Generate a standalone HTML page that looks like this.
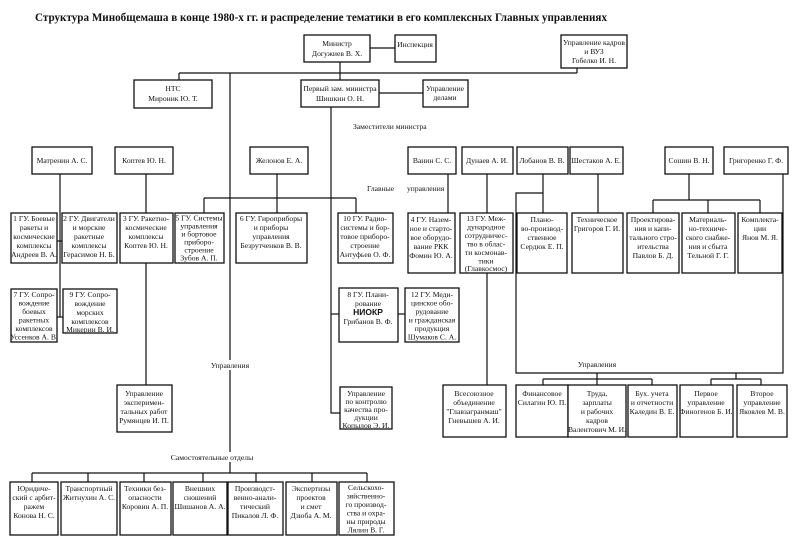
<!DOCTYPE html>
<html><head><meta charset="utf-8"><style>
html,body{margin:0;padding:0;background:#fff;}
svg{display:block;}
text{font-family:"Liberation Serif",serif;font-size:7.6px;fill:#111;}
rect{fill:#fff;stroke:#111;stroke-width:1.3;}
line,polyline{stroke:#111;stroke-width:1.2;fill:none;}
</style></head><body>
<svg width="800" height="538" viewBox="0 0 800 538" xmlns="http://www.w3.org/2000/svg">
<text x="35" y="21" style="font-size:12px;font-weight:bold" textLength="572" lengthAdjust="spacingAndGlyphs">Структура Минобщемаша в конце 1980-х гг. и распределение тематики  в его комплексных Главных управлениях</text>

<!-- connectors -->
<line x1="370" y1="48" x2="395" y2="48"/>
<line x1="340" y1="62" x2="340" y2="80"/>
<line x1="179" y1="73" x2="577" y2="73"/>
<line x1="577" y1="68" x2="577" y2="73"/>
<line x1="179" y1="73" x2="179" y2="80"/>
<line x1="379" y1="93" x2="423" y2="93"/>
<line x1="230" y1="73" x2="230" y2="473"/>
<polyline points="331,107 331,413 340,413"/>
<line x1="60" y1="173" x2="60" y2="317"/>
<line x1="57" y1="241" x2="62" y2="241"/>
<line x1="57" y1="317" x2="63" y2="317"/>
<line x1="146" y1="173" x2="146" y2="385"/>
<line x1="277" y1="173" x2="277" y2="198"/>
<line x1="204" y1="198" x2="356" y2="198"/>
<line x1="204" y1="198" x2="204" y2="213"/>
<line x1="277" y1="198" x2="277" y2="213"/>
<line x1="356" y1="198" x2="356" y2="213"/>
<line x1="331" y1="314" x2="339" y2="314"/>
<line x1="398" y1="314" x2="405" y2="314"/>
<line x1="448" y1="174" x2="448" y2="213"/>
<line x1="487" y1="174" x2="487" y2="385"/>
<line x1="543" y1="174" x2="543" y2="213"/>
<polyline points="543,193 516,193 516,373 783,373 783,174"/>
<line x1="598" y1="174" x2="598" y2="213"/>
<line x1="689" y1="174" x2="689" y2="200"/>
<line x1="653" y1="200" x2="760" y2="200"/>
<line x1="653" y1="200" x2="653" y2="213"/>
<line x1="708" y1="200" x2="708" y2="213"/>
<line x1="760" y1="200" x2="760" y2="213"/>
<line x1="597" y1="373" x2="597" y2="379"/>
<line x1="543" y1="379" x2="652" y2="379"/>
<line x1="543" y1="379" x2="543" y2="385"/>
<line x1="597" y1="379" x2="597" y2="385"/>
<line x1="652" y1="379" x2="652" y2="385"/>
<line x1="736" y1="373" x2="736" y2="379"/>
<line x1="711" y1="379" x2="761" y2="379"/>
<line x1="711" y1="379" x2="711" y2="385"/>
<line x1="761" y1="379" x2="761" y2="385"/>
<line x1="32" y1="473" x2="367" y2="473"/>
<line x1="32" y1="473" x2="32" y2="482"/>
<line x1="88" y1="473" x2="88" y2="482"/>
<line x1="144" y1="473" x2="144" y2="482"/>
<line x1="203" y1="473" x2="203" y2="482"/>
<line x1="256" y1="473" x2="256" y2="482"/>
<line x1="312" y1="473" x2="312" y2="482"/>
<line x1="367" y1="473" x2="367" y2="482"/>

<!-- labels -->
<text x="353" y="129">Заместители министра</text>
<text x="367" y="191">Главные</text>
<text x="407" y="191">управления</text>
<rect x="211" y="360" width="39" height="10" style="stroke:none"/>
<text x="230" y="368" text-anchor="middle">Управления</text>
<text x="597" y="367" text-anchor="middle">Управления</text>
<rect x="170" y="452" width="86" height="10" style="stroke:none"/>
<text x="212" y="460" text-anchor="middle">Самостоятельные отделы</text>

<!-- top boxes -->
<rect x="304" y="35" width="66" height="27"/>
<text text-anchor="middle"><tspan x="337" y="46">Министр</tspan><tspan x="337" y="56">Догужиев В. Х.</tspan></text>
<rect x="395" y="35" width="41" height="27"/>
<text x="415" y="47" text-anchor="middle">Инспекция</text>
<rect x="561" y="35" width="66" height="33"/>
<text text-anchor="middle"><tspan x="594" y="45">Управление кадров</tspan><tspan x="594" y="54">и ВУЗ</tspan><tspan x="594" y="63">Гобелко И. Н.</tspan></text>
<rect x="134" y="80" width="78" height="28"/>
<text text-anchor="middle"><tspan x="173" y="91">НТС</tspan><tspan x="173" y="101">Мироник Ю. Т.</tspan></text>
<rect x="301" y="80" width="78" height="27"/>
<text text-anchor="middle"><tspan x="340" y="91">Первый зам. министра</tspan><tspan x="340" y="101">Шишкин О. Н.</tspan></text>
<rect x="423" y="80" width="45" height="27"/>
<text text-anchor="middle"><tspan x="445" y="91">Управление</tspan><tspan x="445" y="100">делами</tspan></text>

<!-- deputies -->
<rect x="32" y="147" width="60" height="27"/><text x="62" y="163" text-anchor="middle">Матренин А. С.</text>
<rect x="115" y="147" width="58" height="27"/><text x="144" y="163" text-anchor="middle">Коптев Ю. Н.</text>
<rect x="250" y="147" width="58" height="27"/><text x="279" y="163" text-anchor="middle">Желонов Е. А.</text>
<rect x="408" y="147" width="48" height="27"/><text x="432" y="163" text-anchor="middle">Ванин С. С.</text>
<rect x="462" y="147" width="51" height="27"/><text x="487" y="163" text-anchor="middle">Дунаев А. И.</text>
<rect x="517" y="147" width="51" height="27"/><text x="542" y="163" text-anchor="middle">Лобанов В. В.</text>
<rect x="570" y="147" width="53" height="27"/><text x="596" y="163" text-anchor="middle">Шестаков А. Е.</text>
<rect x="665" y="147" width="48" height="27"/><text x="689" y="163" text-anchor="middle">Сошин В. Н.</text>
<rect x="724" y="147" width="64" height="27"/><text x="756" y="163" text-anchor="middle">Григоренко Г. Ф.</text>

<!-- GU row -->
<rect x="11" y="213" width="46" height="50"/>
<text text-anchor="middle"><tspan x="34" y="221">1 ГУ. Боевые</tspan><tspan x="34" y="230">ракеты и</tspan><tspan x="34" y="239">космические</tspan><tspan x="34" y="248">комплексы</tspan><tspan x="34" y="257">Андреев В. А.</tspan></text>
<rect x="62" y="213" width="55" height="50"/>
<text text-anchor="middle"><tspan x="89" y="221">2 ГУ. Двигатели</tspan><tspan x="89" y="230">и морские</tspan><tspan x="89" y="239">ракетные</tspan><tspan x="89" y="248">комплексы</tspan><tspan x="89" y="257">Герасимов Н. Б.</tspan></text>
<rect x="120" y="213" width="53" height="50"/>
<text text-anchor="middle"><tspan x="146" y="221">3 ГУ. Ракетно-</tspan><tspan x="146" y="230">космические</tspan><tspan x="146" y="239">комплексы</tspan><tspan x="146" y="248">Коптев Ю. Н.</tspan></text>
<rect x="175" y="213" width="49" height="50"/>
<text text-anchor="middle"><tspan x="199" y="220.5">5 ГУ. Системы</tspan><tspan x="199" y="228.5">управления</tspan><tspan x="199" y="236.5">и бортовое</tspan><tspan x="199" y="244.5">приборо-</tspan><tspan x="199" y="252.5">строение</tspan><tspan x="199" y="260.5">Зубов А. П.</tspan></text>
<rect x="236" y="213" width="71" height="50"/>
<text text-anchor="middle"><tspan x="271" y="221">6 ГУ. Гироприборы</tspan><tspan x="271" y="230">и приборы</tspan><tspan x="271" y="239">управления</tspan><tspan x="271" y="248">Безрутченков В. В.</tspan></text>
<rect x="338" y="213" width="55" height="50"/>
<text text-anchor="middle"><tspan x="365" y="221">10 ГУ. Радио-</tspan><tspan x="365" y="230">системы и бор-</tspan><tspan x="365" y="239">товое приборо-</tspan><tspan x="365" y="248">строение</tspan><tspan x="365" y="257">Антуфьев О. Ф.</tspan></text>
<rect x="408" y="213" width="47" height="60"/>
<text text-anchor="middle"><tspan x="431" y="222">4 ГУ. Назем-</tspan><tspan x="431" y="231">ное и старто-</tspan><tspan x="431" y="240">вое оборудо-</tspan><tspan x="431" y="249">вание РКК</tspan><tspan x="431" y="258">Фомин Ю. А.</tspan></text>
<rect x="460" y="213" width="53" height="60"/>
<text text-anchor="middle"><tspan x="486" y="221">13 ГУ. Меж-</tspan><tspan x="486" y="229.5">дународное</tspan><tspan x="486" y="238">сотрудничес-</tspan><tspan x="486" y="246.5">тво в облас-</tspan><tspan x="486" y="255">ти космонав-</tspan><tspan x="486" y="263.5">тики</tspan><tspan x="486" y="271">(Главкосмос)</tspan></text>
<rect x="517" y="213" width="50" height="60"/>
<text text-anchor="middle"><tspan x="542" y="222">Плано-</tspan><tspan x="542" y="231">во-производ-</tspan><tspan x="542" y="240">ственное</tspan><tspan x="542" y="249">Сердюк Е. П.</tspan></text>
<rect x="572" y="213" width="51" height="60"/>
<text text-anchor="middle"><tspan x="597" y="222">Техническое</tspan><tspan x="597" y="231">Григоров Г. И.</tspan></text>
<rect x="627" y="213" width="52" height="60"/>
<text text-anchor="middle"><tspan x="653" y="222">Проектирова-</tspan><tspan x="653" y="231">ния и капи-</tspan><tspan x="653" y="240">тального стро-</tspan><tspan x="653" y="249">ительства</tspan><tspan x="653" y="258">Павлов Б. Д.</tspan></text>
<rect x="682" y="213" width="53" height="60"/>
<text text-anchor="middle"><tspan x="708" y="222">Материаль-</tspan><tspan x="708" y="231">но-техниче-</tspan><tspan x="708" y="240">ского снабже-</tspan><tspan x="708" y="249">ния и сбыта</tspan><tspan x="708" y="258">Тельной Г. Г.</tspan></text>
<rect x="738" y="213" width="44" height="60"/>
<text text-anchor="middle"><tspan x="760" y="222">Комплекта-</tspan><tspan x="760" y="231">ции</tspan><tspan x="760" y="240">Янов М. Я.</tspan></text>

<!-- second GU row -->
<rect x="11" y="289" width="46" height="53"/>
<text text-anchor="middle"><tspan x="34" y="297">7 ГУ. Сопро-</tspan><tspan x="34" y="305.5">вождение</tspan><tspan x="34" y="314">боевых</tspan><tspan x="34" y="322.5">ракетных</tspan><tspan x="34" y="331">комплексов</tspan><tspan x="34" y="339.5">Уссенков А. В.</tspan></text>
<rect x="63" y="289" width="54" height="44"/>
<text text-anchor="middle"><tspan x="90" y="297">9 ГУ. Сопро-</tspan><tspan x="90" y="306">вождение</tspan><tspan x="90" y="315">морских</tspan><tspan x="90" y="324">комплексов</tspan><tspan x="90" y="332">Микерин В. И.</tspan></text>
<rect x="339" y="288" width="59" height="54"/>
<text text-anchor="middle"><tspan x="368" y="297">8 ГУ. Плани-</tspan><tspan x="368" y="306">рование</tspan><tspan x="368" y="315" style="font-family:'Liberation Sans',sans-serif;font-weight:bold;font-size:8.5px">НИОКР</tspan><tspan x="368" y="324">Грибанов В. Ф.</tspan></text>
<rect x="405" y="288" width="54" height="54"/>
<text text-anchor="middle"><tspan x="432" y="297">12 ГУ. Меди-</tspan><tspan x="432" y="305.5">цинское обо-</tspan><tspan x="432" y="314">рудование</tspan><tspan x="432" y="322.5">и гражданская</tspan><tspan x="432" y="331">продукция</tspan><tspan x="432" y="339.5">Шумаков С. А.</tspan></text>

<!-- upravleniya -->
<rect x="117" y="385" width="55" height="47"/>
<text text-anchor="middle"><tspan x="144" y="396">Управление</tspan><tspan x="144" y="405">эксперимен-</tspan><tspan x="144" y="414">тальных работ</tspan><tspan x="144" y="423">Румянцев И. П.</tspan></text>
<rect x="340" y="387" width="52" height="42"/>
<text text-anchor="middle"><tspan x="366" y="396">Управление</tspan><tspan x="366" y="404">по контролю</tspan><tspan x="366" y="412">качества про-</tspan><tspan x="366" y="420">дукции</tspan><tspan x="366" y="428">Копылов Э. И.</tspan></text>
<rect x="443" y="385" width="63" height="52"/>
<text text-anchor="middle"><tspan x="474" y="396">Всесоюзное</tspan><tspan x="474" y="405">объединение</tspan><tspan x="474" y="414">"Главзагранмаш"</tspan><tspan x="474" y="423">Гневышев А. И.</tspan></text>
<rect x="516" y="385" width="52" height="52"/>
<text text-anchor="middle"><tspan x="542" y="396">Финансовое</tspan><tspan x="542" y="405">Силагин Ю. П.</tspan></text>
<rect x="568" y="385" width="58" height="52"/>
<text text-anchor="middle"><tspan x="597" y="396">Труда,</tspan><tspan x="597" y="405">зарплаты</tspan><tspan x="597" y="414">и рабочих</tspan><tspan x="597" y="423">кадров</tspan><tspan x="597" y="432">Валентович М. И.</tspan></text>
<rect x="628" y="385" width="49" height="52"/>
<text text-anchor="middle"><tspan x="652" y="396">Бух. учета</tspan><tspan x="652" y="405">и отчетности</tspan><tspan x="652" y="414">Каледин В. Е.</tspan></text>
<rect x="680" y="385" width="53" height="52"/>
<text text-anchor="middle"><tspan x="706" y="396">Первое</tspan><tspan x="706" y="405">управление</tspan><tspan x="706" y="414">Финогенов Б. И.</tspan></text>
<rect x="737" y="385" width="50" height="52"/>
<text text-anchor="middle"><tspan x="762" y="396">Второе</tspan><tspan x="762" y="405">управление</tspan><tspan x="762" y="414">Яковлев М. В.</tspan></text>

<!-- bottom departments -->
<rect x="10" y="482" width="48" height="53"/>
<text text-anchor="middle"><tspan x="34" y="491">Юридиче-</tspan><tspan x="34" y="500">ский с арбит-</tspan><tspan x="34" y="509">ражем</tspan><tspan x="34" y="518">Конова Н. С.</tspan></text>
<rect x="61" y="482" width="56" height="53"/>
<text text-anchor="middle"><tspan x="89" y="491">Транспортный</tspan><tspan x="89" y="500">Житнухин А. С.</tspan></text>
<rect x="120" y="482" width="51" height="53"/>
<text text-anchor="middle"><tspan x="145" y="491">Техники без-</tspan><tspan x="145" y="500">опасности</tspan><tspan x="145" y="509">Коровин А. П.</tspan></text>
<rect x="173" y="482" width="54" height="53"/>
<text text-anchor="middle"><tspan x="200" y="491">Внешних</tspan><tspan x="200" y="500">сношений</tspan><tspan x="200" y="509">Шишанов А. А.</tspan></text>
<rect x="228" y="482" width="55" height="53"/>
<text text-anchor="middle"><tspan x="255" y="491">Производст-</tspan><tspan x="255" y="500">венно-анали-</tspan><tspan x="255" y="509">тический</tspan><tspan x="255" y="518">Пикалов Л. Ф.</tspan></text>
<rect x="286" y="482" width="51" height="53"/>
<text text-anchor="middle"><tspan x="311" y="491">Экспертизы</tspan><tspan x="311" y="500">проектов</tspan><tspan x="311" y="509">и смет</tspan><tspan x="311" y="518">Дзюба А. М.</tspan></text>
<rect x="339" y="482" width="55" height="53"/>
<text text-anchor="middle"><tspan x="366" y="490">Сельскохо-</tspan><tspan x="366" y="498.5">зяйственно-</tspan><tspan x="366" y="507">го производ-</tspan><tspan x="366" y="515.5">ства и охра-</tspan><tspan x="366" y="524">ны природы</tspan><tspan x="366" y="532.5">Лялин В. Г.</tspan></text>
</svg>
</body></html>
